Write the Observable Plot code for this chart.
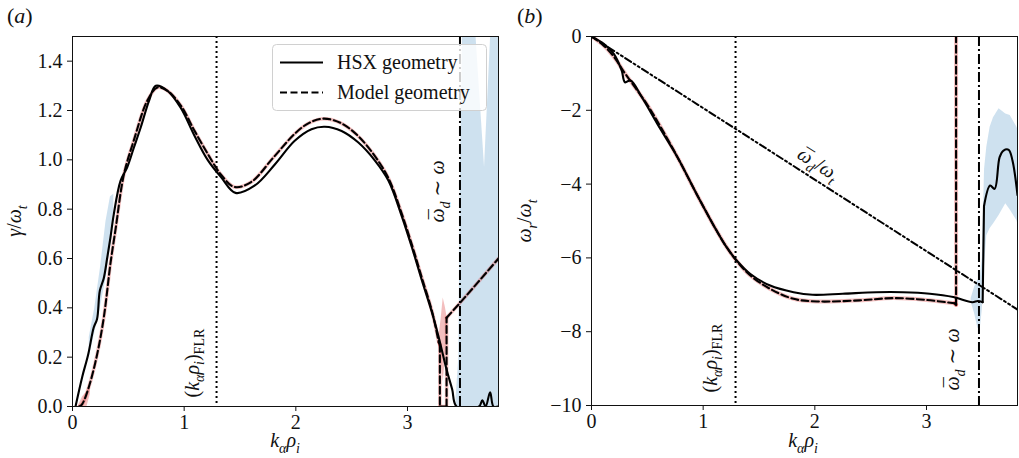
<!DOCTYPE html>
<html>
<head>
<meta charset="utf-8">
<script src="https://cdn.jsdelivr.net/npm/d3@7"></script>
<script src="https://cdn.jsdelivr.net/npm/@observablehq/plot@0.6"></script>
<style>
  html, body { margin: 0; padding: 0; background: white; }
  #fig { display: flex; width: 1019px; height: 458px; }
  #fig svg { display: block; }
</style>
</head>
<body>
<div id="fig"><div id="pa"></div><div id="pb"></div></div>
<script>
// ---------------- data ----------------
// Panel (a): growth rate gamma/omega_t vs k_alpha rho_i
const kA_hsx = [0.027, 0.087, 0.14, 0.19, 0.22, 0.245, 0.28, 0.31, 0.34, 0.37, 0.43, 0.49, 0.55, 0.61, 0.686, 0.746, 0.85, 0.97, 1.09, 1.21, 1.33, 1.46, 1.63, 1.81, 1.99, 2.14, 2.26, 2.41, 2.56, 2.71, 2.83, 2.95, 3.05, 3.13, 3.22, 3.28, 3.35, 3.40, 3.44, 3.64, 3.67, 3.70, 3.74, 3.77, 3.815];
const gA_hsx = [0, 0.12, 0.21, 0.32, 0.355, 0.47, 0.52, 0.60, 0.685, 0.78, 0.915, 0.97, 1.05, 1.13, 1.24, 1.30, 1.28, 1.21, 1.10, 1.0, 0.93, 0.866, 0.895, 0.98, 1.077, 1.124, 1.134, 1.117, 1.07, 0.996, 0.915, 0.77, 0.63, 0.51, 0.38, 0.28, 0.15, 0.07, 0, 0, 0.025, 0, 0.058, 0, 0];
const kA_mod = [0.06, 0.087, 0.147, 0.22, 0.28, 0.34, 0.386, 0.46, 0.55, 0.67, 0.76, 0.85, 0.97, 1.09, 1.21, 1.33, 1.45, 1.6, 1.8, 2.0, 2.12, 2.25, 2.4, 2.55, 2.7, 2.83, 2.95, 3.05, 3.13, 3.22, 3.28, 3.29, 3.29, 3.35, 3.35, 3.48, 3.815];
const gA_mod = [0, 0.01, 0.08, 0.21, 0.36, 0.58, 0.72, 0.94, 1.08, 1.24, 1.293, 1.28, 1.22, 1.12, 1.025, 0.94, 0.89, 0.91, 1.01, 1.11, 1.15, 1.167, 1.15, 1.1, 1.02, 0.925, 0.78, 0.64, 0.52, 0.385, 0.26, 0.25, 0, 0, 0.36, 0.425, 0.6];
// uncertainty bands (a)
const kA_hsxBand1 = [0.15, 0.2, 0.25, 0.3, 0.34, 0.37];
const loA_hsxBand1 = [0.2, 0.3, 0.4, 0.52, 0.65, 0.8];
const hiA_hsxBand1 = [0.28, 0.4, 0.56, 0.75, 0.85, 0.86];
const kA_hsxBand2 = [3.43, 3.46, 3.475, 3.50, 3.585, 3.69, 3.765, 3.815];
const loA_hsxBand2 = [0, 0, 0, 0, 0, 0, 0, 0];
const hiA_hsxBand2 = [0, 0.2, 1.0, 1.7, 1.7, 0.97, 1.7, 1.7];
const kA_modBand1 = [0.05, 0.09, 0.13, 0.16];
const loA_modBand1 = [0, 0, 0, 0.05];
const hiA_modBand1 = [0, 0.04, 0.06, 0.1];
const kA_modBand2 = [3.275, 3.30, 3.32, 3.34, 3.355];
const loA_modBand2 = [0.26, 0.2, 0.10, 0.2, 0.34];
const hiA_modBand2 = [0.26, 0.35, 0.44, 0.40, 0.36];

// Panel (b): real frequency omega_r/omega_t vs k_alpha rho_i
const kB_hsx = [0, 0.11, 0.2, 0.27, 0.30, 0.35, 0.45, 0.59, 0.77, 0.94, 1.12, 1.21, 1.30, 1.42, 1.60, 1.81, 1.98, 2.25, 2.55, 2.79, 3.03, 3.24, 3.41, 3.46, 3.503, 3.515, 3.57, 3.61, 3.655, 3.69, 3.736, 3.77, 3.815];
const wB_hsx = [0, -0.2, -0.47, -0.92, -1.24, -1.19, -1.64, -2.37, -3.27, -4.26, -5.26, -5.71, -6.07, -6.43, -6.75, -6.93, -7.0, -6.97, -6.93, -6.93, -6.97, -7.06, -7.2, -7.17, -7.2, -4.6, -4.04, -4.13, -3.27, -3.09, -3.07, -3.36, -4.3];
const kB_mod = [0, 0.1, 0.2, 0.3, 0.4, 0.5, 0.6, 0.77, 0.94, 1.12, 1.21, 1.30, 1.42, 1.60, 1.81, 2.02, 2.40, 2.70, 3.0, 3.25, 3.265, 3.265];
const wB_mod = [0, -0.22, -0.55, -1.0, -1.42, -1.85, -2.35, -3.27, -4.26, -5.26, -5.71, -6.08, -6.47, -6.84, -7.11, -7.18, -7.15, -7.09, -7.14, -7.23, -7.27, 3];
const kB_hsxBand = [3.40, 3.43, 3.46, 3.48, 3.50, 3.52, 3.54, 3.57, 3.60, 3.65, 3.71, 3.75, 3.81, 3.815];
const loB_hsxBand = [-7.2, -7.5, -7.9, -7.97, -7.4, -6.2, -5.4, -5.2, -5.08, -4.85, -4.53, -4.7, -4.99, -5.05];
const hiB_hsxBand = [-7.1, -6.8, -6.6, -6.6, -6.0, -3.6, -3.0, -2.46, -2.2, -1.96, -2.1, -2.14, -2.46, -2.5];
// drift frequency line
const kDrift = [0, 3.815];
const wDrift = [0, -7.4];

// reference positions
const kFLR = 1.29;
const kRes = 3.47;

// ticks
const xTicks = [0, 1, 2, 3];
const yTicksA = [0, 0.2, 0.4, 0.6, 0.8, 1.0, 1.2, 1.4];
const yTicksB = [-10, -8, -6, -4, -2, 0];

// legend entries
const legendNames = ["HSX geometry", "Model geometry"];

// ---------------- helpers ----------------
// split a curve into smooth pieces, with near-vertical jumps as their own straight pieces
function segRows(xs, ys) {
  const out = [];
  let seg = 0;
  for (let i = 0; i < xs.length; i++) {
    if (i > 0 && Math.abs(xs[i] - xs[i - 1]) < 0.02) {
      seg++;
      out.push({x: xs[i - 1], y: ys[i - 1], z: seg});
      out.push({x: xs[i], y: ys[i], z: seg});
      seg++;
      out.push({x: xs[i], y: ys[i], z: seg});
    } else {
      out.push({x: xs[i], y: ys[i], z: seg});
    }
  }
  return out;
}
const rows = (xs, ys) => xs.map((x, i) => ({x, y: ys[i]}));
const bandRows = (xs, lo, hi) => xs.map((x, i) => ({x, lo: lo[i], hi: hi[i]}));
const FONT = "'Liberation Serif', 'DejaVu Serif', serif";
const FS = 20;
const BLUE = "#1f77b4", RED = "#d62728";
const DASH = "7,3.5", DOT = "2,3", DASHDOT = "10,3,2,3", DASHDOTDOT = "7,3,2,3,2,3";
const CURVE = "catmull-rom";

function fillRich(node, parts, fs) {
  const t = d3.select(node);
  const dyA = node.getAttribute("dy");
  if (dyA != null) { node.removeAttribute("dy"); node.setAttribute("y", dyA); }
  node.textContent = "";
  let cur = 0, pendingDx = 0;
  for (const [s, f] of parts) {
    const sub = f.includes("s"), it = f.includes("i"), bar = f.includes("b");
    const target = sub ? 0.28 * fs : 0;
    const ts = t.append("tspan").text(s);
    if (target !== cur) ts.attr("dy", target - cur);
    if (pendingDx) { ts.attr("dx", pendingDx); pendingDx = 0; }
    cur = target;
    if (sub) ts.attr("font-size", 0.7 * fs);
    ts.attr("font-style", it ? "italic" : "normal");
    if (bar) {
      const w = ts.node().getComputedTextLength();
      const mb = t.append("tspan").text("\u00AF").attr("font-style", "normal");
      const m = mb.node().getComputedTextLength();
      const shift = 0.06 * fs;
      mb.attr("dx", -w / 2 - m / 2 + shift);
      pendingDx = w / 2 - m / 2 - shift;
    }
  }
}
function richPlaceholder(svg, key, parts) {
  d3.select(svg).selectAll("text").filter(function () { return this.textContent === key; })
    .each(function () { fillRich(this, parts, FS); });
}
function addText(svg, x, y, rot, anchor, parts, fs) {
  const t = d3.select(svg).append("text")
    .attr("transform", `translate(${x},${y}) rotate(${rot})`)
    .attr("text-anchor", anchor)
    .attr("font-family", FONT).attr("font-size", fs).attr("fill", "#111");
  fillRich(t.node(), parts, fs);
  return t;
}

const FLR_PARTS = [["(", ""], ["k", "i"], ["α", "is"], ["ρ", "i"], ["i", "is"], [")", ""], ["FLR", "s"]];
const RES_PARTS = [["ω", "ib"], ["d", "is"], [" ∼ ", ""], ["ω", "i"]];
const XLAB_PARTS = [["k", "i"], ["α", "is"], ["ρ", "i"], ["i", "is"]];

const common = {
  height: 458,
  marginTop: 36,
  marginBottom: 52,
  style: {fontFamily: FONT, fontSize: FS + "px", color: "#111", background: "white"}
};

// ---------------- panel (a) ----------------
const segA_hsx = segRows(kA_hsx, gA_hsx);
const segA_mod = segRows(kA_mod, gA_mod);
const chartA = Plot.plot({
  ...common,
  width: 510,
  marginLeft: 72,
  marginRight: 12,
  x: {domain: [0, 3.815], ticks: xTicks, tickSize: 5, tickPadding: 3, label: null, tickFormat: d3.format("d")},
  y: {domain: [0, 1.5], ticks: yTicksA, tickSize: 5, tickPadding: 5, label: null, tickFormat: d3.format(".1f")},
  marks: [
    Plot.areaY(bandRows(kA_hsxBand1, loA_hsxBand1, hiA_hsxBand1), {x: "x", y1: "lo", y2: "hi", fill: BLUE, fillOpacity: 0.22}),
    Plot.areaY(bandRows(kA_hsxBand2, loA_hsxBand2, hiA_hsxBand2), {x: "x", y1: "lo", y2: "hi", fill: BLUE, fillOpacity: 0.22, clip: true}),
    Plot.areaY(bandRows(kA_modBand1, loA_modBand1, hiA_modBand1), {x: "x", y1: "lo", y2: "hi", fill: RED, fillOpacity: 0.3}),
    Plot.areaY(bandRows(kA_modBand2, loA_modBand2, hiA_modBand2), {x: "x", y1: "lo", y2: "hi", fill: RED, fillOpacity: 0.3}),
    Plot.line(segA_mod, {x: "x", y: "y", z: "z", stroke: RED, strokeOpacity: 0.3, strokeWidth: 3.5, curve: CURVE, clip: true}),
    Plot.line(segA_hsx, {x: "x", y: "y", z: "z", stroke: "black", strokeWidth: 2.1, curve: CURVE, clip: true}),
    Plot.line(segA_mod, {x: "x", y: "y", z: "z", stroke: "black", strokeWidth: 2.1, strokeDasharray: DASH, curve: CURVE, clip: true}),
    Plot.ruleX([kFLR], {stroke: "black", strokeWidth: 2, strokeDasharray: DOT}),
    Plot.ruleX([kRes], {stroke: "black", strokeWidth: 2, strokeDasharray: DASHDOT}),
    Plot.text(["§FLR"], {text: d => d, x: () => kFLR, frameAnchor: "bottom", dx: -18, dy: -9, rotate: -90, textAnchor: "start", fontSize: FS, fill: "#111"}),
    Plot.text(["§RES"], {text: d => d, x: () => kRes, frameAnchor: "bottom", dx: -16, dy: -184, rotate: -90, textAnchor: "start", fontSize: FS, fill: "#111"}),
    Plot.frame({stroke: "#111", strokeWidth: 1})
  ]
});
document.getElementById("pa").appendChild(chartA);
richPlaceholder(chartA, "§FLR", FLR_PARTS);
richPlaceholder(chartA, "§RES", RES_PARTS);
addText(chartA, 7, 23, 0, "start", [["(", ""], ["a", "i"], [")", ""]], 22);
addText(chartA, 285, 447, 0, "middle", XLAB_PARTS, FS);
addText(chartA, 21, 221, -90, "middle", [["γ", "i"], ["/", ""], ["ω", "i"], ["t", "is"]], FS);

// legend
{
  const g = d3.select(chartA).append("g");
  g.append("rect").attr("x", 272.5).attr("y", 44.5).attr("width", 214).attr("height", 66)
    .attr("rx", 4).attr("fill", "white").attr("fill-opacity", 0.8)
    .attr("stroke", "#d0d0d0").attr("stroke-width", 1);
  const dashes = [null, DASH];
  legendNames.forEach((name, i) => {
    const yy = 62.5 + i * 30;
    g.append("line").attr("x1", 280).attr("x2", 323).attr("y1", yy).attr("y2", yy)
      .attr("stroke", "black").attr("stroke-width", 2.1)
      .attr("stroke-dasharray", dashes[i]);
    g.append("text").attr("x", 337).attr("y", yy + 6.5).attr("text-anchor", "start")
      .attr("font-family", FONT).attr("font-size", FS).attr("fill", "#111").text(name);
  });
}

// ---------------- panel (b) ----------------
const slope = wDrift[1] / kDrift[1];
const kLab = 2.03;
const segB_hsx = segRows(kB_hsx, wB_hsx);
const segB_mod = segRows(kB_mod, wB_mod);
const chartB = Plot.plot({
  ...common,
  width: 509,
  marginLeft: 81,
  marginRight: 2,
  marginBottom: 53,
  x: {domain: [0, 3.815], ticks: xTicks, tickSize: 5, tickPadding: 3, label: null, tickFormat: d3.format("d")},
  y: {domain: [-10, 0], ticks: yTicksB, tickSize: 5, tickPadding: 5, label: null, tickFormat: d3.format("d")},
  marks: [
    Plot.areaY(bandRows(kB_hsxBand, loB_hsxBand, hiB_hsxBand), {x: "x", y1: "lo", y2: "hi", fill: BLUE, fillOpacity: 0.22, clip: true}),
    Plot.line(segB_mod, {x: "x", y: "y", z: "z", stroke: RED, strokeOpacity: 0.3, strokeWidth: 4, curve: CURVE, clip: true}),
    Plot.line(rows(kDrift, wDrift), {x: "x", y: "y", stroke: "black", strokeWidth: 2, strokeDasharray: DASHDOTDOT, clip: true}),
    Plot.line(segB_hsx, {x: "x", y: "y", z: "z", stroke: "black", strokeWidth: 2.1, curve: CURVE, clip: true}),
    Plot.line(segB_mod, {x: "x", y: "y", z: "z", stroke: "black", strokeWidth: 2.1, strokeDasharray: DASH, curve: CURVE, clip: true}),
    Plot.ruleX([kFLR], {stroke: "black", strokeWidth: 2, strokeDasharray: DOT}),
    Plot.ruleX([kRes], {stroke: "black", strokeWidth: 2, strokeDasharray: DASHDOT}),
    Plot.text(["§FLR"], {text: d => d, x: () => kFLR, frameAnchor: "bottom", dx: -19, dy: -13, rotate: -90, textAnchor: "start", fontSize: FS, fill: "#111"}),
    Plot.text(["§RES"], {text: d => d, x: () => kRes, frameAnchor: "bottom", dx: -20, dy: -15, rotate: -90, textAnchor: "start", fontSize: FS, fill: "#111"}),
    Plot.text(["§DRIFT"], {text: d => d, x: () => kLab, y: () => slope * kLab, dy: -18, rotate: 32.6, textAnchor: "middle", fontSize: FS, fill: "#111"}),
    Plot.frame({stroke: "#111", strokeWidth: 1})
  ]
});
document.getElementById("pb").appendChild(chartB);
richPlaceholder(chartB, "§FLR", FLR_PARTS);
richPlaceholder(chartB, "§RES", RES_PARTS);
richPlaceholder(chartB, "§DRIFT", [["ω", "ib"], ["d", "is"], ["/", ""], ["ω", "i"], ["t", "is"]]);
addText(chartB, 7, 23, 0, "start", [["(", ""], ["b", "i"], [")", ""]], 22);
addText(chartB, 293, 447, 0, "middle", XLAB_PARTS, FS);
addText(chartB, 21, 221, -90, "middle", [["ω", "i"], ["r", "is"], ["/", ""], ["ω", "i"], ["t", "is"]], FS);
</script>
</body>
</html>
